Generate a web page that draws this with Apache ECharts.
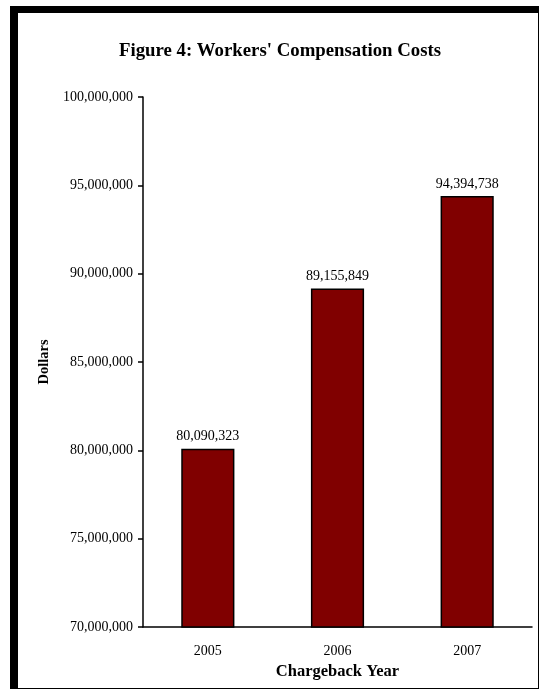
<!DOCTYPE html>
<html><head><meta charset="utf-8">
<script src="https://cdn.jsdelivr.net/npm/echarts@6/dist/echarts.min.js"></script>
<style>html,body{margin:0;padding:0;background:#fff}#c{width:540px;height:689px}</style>
</head><body><div id="c"></div>
<script>
const categories = ['2005', '2006', '2007'];
const costs = [80090323, 89155849, 94394738];
const yMin = 70000000, yMax = 100000000, yStep = 5000000;

const fmt = v => Math.round(v).toString().replace(/\B(?=(\d{3})+(?!\d))/g, ',');
const font = 'Liberation Serif, Times New Roman, serif';

const chart = echarts.init(document.getElementById('c'));
chart.setOption({
  animation: false,
  backgroundColor: '#fff',
  graphic: [
    { type: 'rect', z: -10, shape: { x: 10, y: 6, width: 529, height: 683 }, style: { fill: '#000' } },
    { type: 'rect', z: -9, shape: { x: 18, y: 13, width: 520, height: 675 }, style: { fill: '#fff' } }
  ],
  title: {
    text: "Figure 4: Workers' Compensation Costs",
    left: 275, top: 37, textAlign: 'center',
    textStyle: { fontFamily: font, fontSize: 18.8, fontWeight: 'bold', color: '#000' }
  },
  grid: { left: 143, right: 8, top: 97, bottom: 62 },
  xAxis: {
    type: 'category', data: categories,
    name: 'Chargeback Year', nameLocation: 'middle', nameGap: 35,
    nameTextStyle: { fontFamily: font, fontSize: 16.5, fontWeight: 'bold', color: '#000' },
    axisLine: { lineStyle: { color: '#000', width: 1.5 } },
    axisTick: { length: 4, lineStyle: { color: '#000', width: 1.5 } },
    axisLabel: { fontFamily: font, fontSize: 14, color: '#000', margin: 17 }
  },
  yAxis: {
    type: 'value', min: yMin, max: yMax, interval: yStep,
    name: 'Dollars', nameLocation: 'middle', nameGap: 90,
    nameTextStyle: { fontFamily: font, fontSize: 14.5, fontWeight: 'bold', color: '#000' },
    axisLine: { show: true, lineStyle: { color: '#000', width: 1.5 } },
    axisTick: { show: true, length: 5, lineStyle: { color: '#000', width: 1.5 } },
    splitLine: { show: false },
    axisLabel: { fontFamily: font, fontSize: 14, color: '#000', margin: 10, formatter: fmt }
  },
  series: [{
    type: 'bar', data: costs, barWidth: '41%',
    itemStyle: { color: '#800000', borderColor: '#000', borderWidth: 1.5 },
    label: { show: true, position: 'top', distance: 5, fontFamily: font, fontSize: 14, color: '#000', formatter: p => fmt(p.value) }
  }]
});
</script></body></html>
